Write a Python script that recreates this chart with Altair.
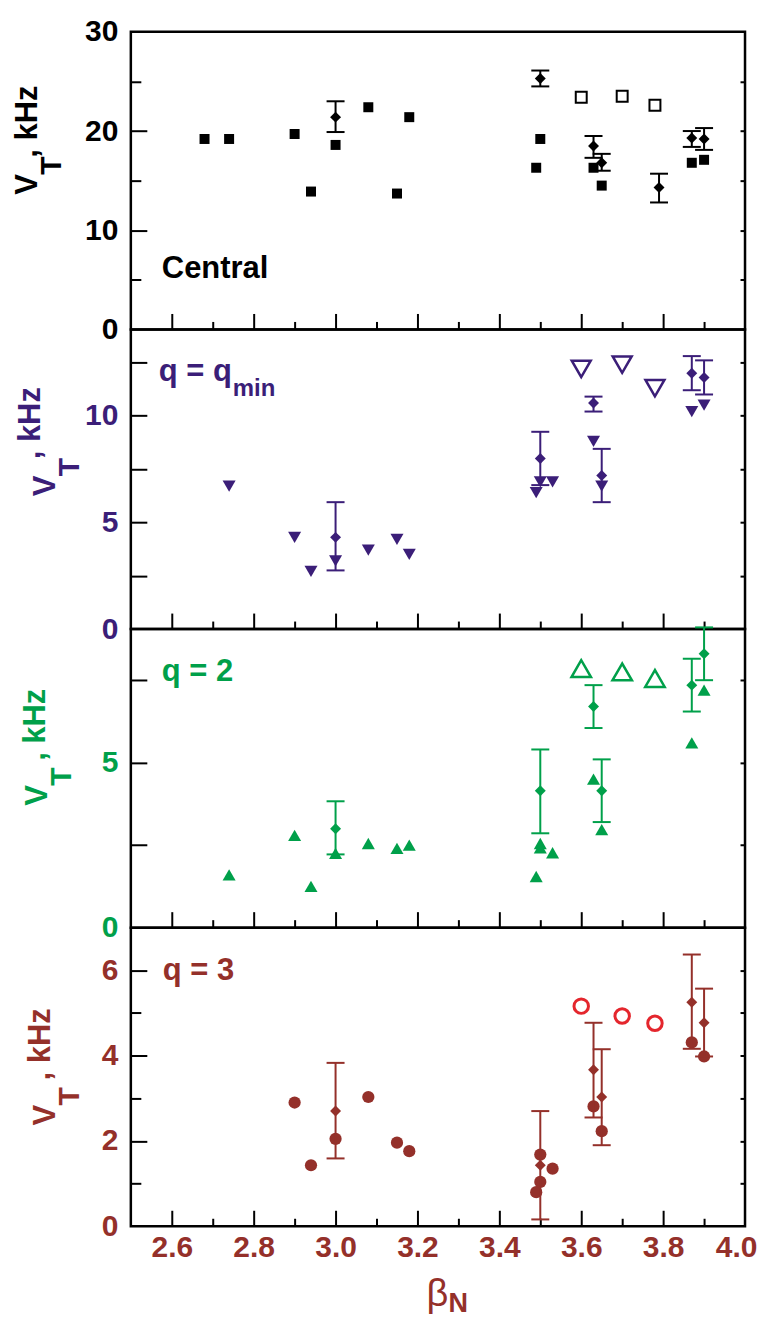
import altair as alt
import pandas as pd

FONT = "Liberation Sans, Arial, sans-serif"
BLACK = "#000000"
PURPLE = "#3b1e78"
GREEN = "#00a04a"
BROWN = "#94302a"
RED = "#e4262d"

W = 615
HEIGHTS = [298, 300, 299, 299]
X_DOMAIN = [2.5, 4.0]
X_LABELS = [2.6, 2.8, 3.0, 3.2, 3.4, 3.6, 3.8, 4.0]
X_TICKS = [2.6, 2.7, 2.8, 2.9, 3.0, 3.1, 3.2, 3.3, 3.4, 3.5, 3.6, 3.7, 3.8, 3.9]

# ---------------- Panel 1: Central ----------------
c_sq_x = [2.68, 2.74, 2.90, 2.94, 3.00, 3.08, 3.15, 3.18, 3.49, 3.50, 3.63, 3.65, 3.87, 3.90]
c_sq_y = [19.2, 19.2, 19.7, 13.9, 18.6, 22.4, 13.7, 21.4, 16.3, 19.2, 16.3, 14.5, 16.8, 17.1]
c_open_x = [3.60, 3.70, 3.78]
c_open_y = [23.4, 23.5, 22.6]
c_dia_x = [3.00, 3.50, 3.63, 3.65, 3.79, 3.87, 3.90]
c_dia_y = [21.4, 25.3, 18.5, 16.8, 14.3, 19.3, 19.2]
c_dia_lo = [19.9, 24.5, 17.3, 16.0, 12.8, 18.4, 18.1]
c_dia_hi = [23.0, 26.1, 19.5, 17.7, 15.7, 20.0, 20.3]

# ---------------- Panel 2: q = qmin ----------------
m_tri_x = [2.74, 2.90, 2.94, 3.00, 3.08, 3.15, 3.18, 3.49, 3.50, 3.53, 3.63, 3.65, 3.87, 3.90]
m_tri_y = [6.7, 4.3, 2.7, 3.2, 3.7, 4.2, 3.5, 6.4, 6.9, 6.9, 8.8, 6.7, 10.2, 10.5]
m_open_x = [3.60, 3.70, 3.78]
m_open_y = [12.2, 12.4, 11.3]
m_dia_x = [3.00, 3.50, 3.63, 3.65, 3.87, 3.90]
m_dia_y = [4.3, 8.0, 10.6, 7.2, 12.0, 11.8]
m_dia_lo = [2.75, 6.75, 10.2, 5.95, 11.2, 11.0]
m_dia_hi = [5.95, 9.25, 10.9, 8.45, 12.8, 12.6]

# ---------------- Panel 3: q = 2 ----------------
q2_tri_x = [2.74, 2.90, 2.94, 3.00, 3.08, 3.15, 3.18, 3.49, 3.50, 3.50, 3.53, 3.63, 3.65, 3.87, 3.90]
q2_tri_y = [1.6, 2.8, 1.25, 2.25, 2.55, 2.4, 2.5, 1.55, 2.55, 2.42, 2.27, 4.5, 2.97, 5.6, 7.2]
q2_open_x = [3.60, 3.70, 3.78]
q2_open_y = [7.85, 7.75, 7.55]
q2_dia_x = [3.00, 3.50, 3.63, 3.65, 3.87, 3.90]
q2_dia_y = [3.0, 4.15, 6.7, 4.15, 7.35, 8.3]
q2_dia_lo = [2.22, 2.86, 6.05, 3.2, 6.55, 7.5]
q2_dia_hi = [3.83, 5.4, 7.35, 5.1, 8.15, 9.1]

# ---------------- Panel 4: q = 3 ----------------
q3_cir_x = [2.90, 2.94, 3.00, 3.08, 3.15, 3.18, 3.49, 3.50, 3.50, 3.53, 3.63, 3.65, 3.87, 3.90]
q3_cir_y = [2.9, 1.43, 2.05, 3.03, 1.96, 1.76, 0.8, 1.04, 1.68, 1.35, 2.81, 2.23, 4.31, 3.98]
q3_open_x = [3.60, 3.70, 3.78]
q3_open_y = [5.16, 4.93, 4.76]
q3_dia_x = [3.00, 3.50, 3.63, 3.65, 3.87, 3.90]
q3_dia_y = [2.7, 1.43, 3.67, 3.03, 5.25, 4.77]
q3_dia_lo = [1.59, 0.16, 2.55, 1.9, 4.16, 3.98]
q3_dia_hi = [3.83, 2.7, 4.77, 4.15, 6.37, 5.57]

X_MAJOR_TEST = "abs(datum.value*5 - round(datum.value*5)) < 0.01"


def txt(s, x, y, size, color, weight="bold", angle=0, align="left",
        baseline="alphabetic", dx=0, dy=0, font=FONT):
    return alt.Chart(pd.DataFrame({"t": [s]})).mark_text(
        font=font, fontSize=size, fontWeight=weight, color=color, angle=angle,
        align=align, baseline=baseline, dx=dx, dy=dy
    ).encode(text="t:N", x=alt.value(x), y=alt.value(y))


def ytitle(color, x, y, kdx=37, kdy=0):
    return [
        txt("V", x, y, 31, color, angle=270),
        txt("T", x, y, 30, color, angle=270, dx=20, dy=24),
        txt(", kHz", x, y, 31, color, angle=270, dx=kdx, dy=kdy),
    ]


def panel(idx, color, ymax, ylabels, yticks, ytick_size,
          fx, fy, fshape, fsize,
          ox, oy, oshape, osize, ocolor, ostroke,
          dx_, dy_, dlo, dhi, extra, bottom=False):
    H = HEIGHTS[idx]
    xs = alt.Scale(domain=X_DOMAIN, nice=False, zero=False)
    ys = alt.Scale(domain=[0, ymax], nice=False, zero=False)

    if bottom:
        x_lab_axis = alt.Axis(orient="bottom", values=X_LABELS, format=".1f", ticks=False,
                              domain=False, grid=False, title=None, labelFont=FONT,
                              labelFontSize=30, labelFontWeight="bold", labelColor=BROWN,
                              labelPadding=6, labelFlush=True, labelFlushOffset=12,
                              labelOverlap=False)
    else:
        x_lab_axis = None
    y_lab_axis = alt.Axis(orient="left", values=ylabels, ticks=False, domain=False, grid=False,
                          title=None, labelFont=FONT, labelFontSize=30, labelFontWeight="bold",
                          labelColor=color, labelPadding=13, labelOverlap=False)

    x_tick_axis = alt.Axis(orient="top", offset=-H, values=X_TICKS, labels=False, domain=False,
                           grid=False, title=None, tickColor="black", tickWidth=2,
                           tickSize={"condition": {"test": X_MAJOR_TEST, "value": 16}, "value": 8})
    y_tick_axis = alt.Axis(orient="right", offset=-W, values=yticks, labels=False, domain=False,
                           grid=False, title=None, tickColor="black", tickWidth=2,
                           tickSize=ytick_size)
    y_rtick_axis = alt.Axis(orient="left", offset=-W, values=yticks, labels=False, domain=False,
                            grid=False, title=None, tickColor="black", tickWidth=2, tickSize=5)

    filled = alt.Chart(pd.DataFrame({"x": fx, "y": fy})).mark_point(
        shape=fshape, size=fsize, filled=True, color=color, opacity=1
    ).encode(x=alt.X("x:Q", scale=xs, axis=x_lab_axis),
             y=alt.Y("y:Q", scale=ys, axis=y_lab_axis))

    opened = alt.Chart(pd.DataFrame({"x": ox, "y": oy})).mark_point(
        shape=oshape, size=osize, filled=False, color=ocolor, opacity=1, strokeWidth=ostroke
    ).encode(x=alt.X("x:Q", scale=xs, axis=x_tick_axis),
             y=alt.Y("y:Q", scale=ys, axis=y_tick_axis))

    edf = pd.DataFrame({"x": dx_, "y": dy_, "lo": dlo, "hi": dhi})
    rule = alt.Chart(edf).mark_rule(color=color, strokeWidth=2).encode(
        x=alt.X("x:Q", scale=xs, axis=None),
        y=alt.Y("lo:Q", scale=ys, axis=y_rtick_axis), y2="hi:Q")
    cap_lo = alt.Chart(edf).mark_tick(color=color, orient="horizontal", size=18, thickness=2,
                                      opacity=1).encode(
        x=alt.X("x:Q", scale=xs, axis=None), y=alt.Y("lo:Q", scale=ys, axis=None))
    cap_hi = alt.Chart(edf).mark_tick(color=color, orient="horizontal", size=18, thickness=2,
                                      opacity=1).encode(
        x=alt.X("x:Q", scale=xs, axis=None), y=alt.Y("hi:Q", scale=ys, axis=None))
    dia = alt.Chart(edf).mark_point(shape="diamond", size=120, filled=True, color=color,
                                    opacity=1).encode(
        x=alt.X("x:Q", scale=xs, axis=None), y=alt.Y("y:Q", scale=ys, axis=None))

    layers = [filled, opened, rule, cap_lo, cap_hi, dia] + extra
    return alt.layer(*layers).resolve_axis(x="independent", y="independent").properties(
        width=W, height=H)


p1 = panel(0, BLACK, 30, [0, 10, 20, 30], [5, 10, 15, 20, 25],
           {"condition": {"test": "datum.value % 10 == 0", "value": 16}, "value": 10},
           c_sq_x, c_sq_y, "square", 100,
           c_open_x, c_open_y, "square", 120, BLACK, 2,
           c_dia_x, c_dia_y, c_dia_lo, c_dia_hi,
           [txt("Central", 31, 246, 31, BLACK)] + ytitle(BLACK, -94, 163))

p2 = panel(1, PURPLE, 14.05, [0, 5, 10], [2.5, 5, 7.5, 10, 12.5], 16,
           m_tri_x, m_tri_y, "triangle-down", 170,
           m_open_x, m_open_y, "triangle-down", 360, PURPLE, 2.5,
           m_dia_x, m_dia_y, m_dia_lo, m_dia_hi,
           [txt("q = q", 28, 52, 31, PURPLE), txt("min", 102, 67, 24, PURPLE)]
           + ytitle(PURPLE, -76, 167, kdy=-15))

p3 = panel(2, GREEN, 9.05, [0, 5], [2.5, 5, 7.5], 16,
           q2_tri_x, q2_tri_y, "triangle-up", 170,
           q2_open_x, q2_open_y, "triangle-up", 380, GREEN, 2.5,
           q2_dia_x, q2_dia_y, q2_dia_lo, q2_dia_hi,
           [txt("q = 2", 31, 52, 31, GREEN)] + ytitle(GREEN, -84, 177, kdx=45, kdy=-2))

p4 = panel(3, BROWN, 7.0, [0, 2, 4, 6], [1, 2, 3, 4, 5, 6],
           {"condition": {"test": "datum.value % 2 == 0", "value": 16}, "value": 10},
           q3_cir_x, q3_cir_y, "circle", 150,
           q3_open_x, q3_open_y, "circle", 210, RED, 3,
           q3_dia_x, q3_dia_y, q3_dia_lo, q3_dia_hi,
           [txt("q = 3", 32, 52, 31, BROWN),
            txt("\u03b2", 307, 379, 38, BROWN, weight="normal", align="center"),
            txt("N", 318, 385, 27, BROWN, align="left")]
           + ytitle(BROWN, -76, 198, kdx=45, kdy=-5),
           bottom=True)

chart = alt.vconcat(p1, p2, p3, p4, spacing=0, bounds="flush").configure_view(
    stroke="black", strokeWidth=2.5
).properties(padding={"left": 2, "top": 6, "right": 0, "bottom": 0})

chart.save("out.html", embed_options={"renderer": "svg", "actions": False})
